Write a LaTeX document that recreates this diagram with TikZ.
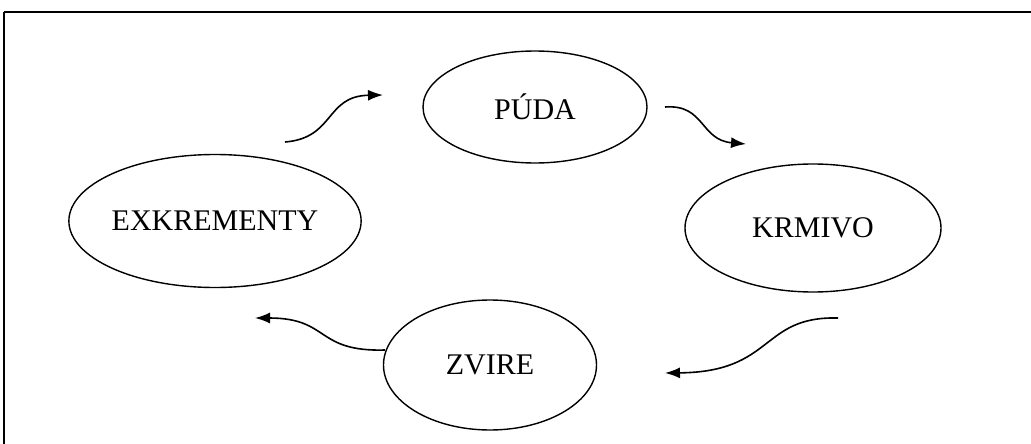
\documentclass[tikz,border=0pt]{standalone}
\usepackage{fontspec}
\setmainfont{Liberation Serif}
\usetikzlibrary{shapes.geometric,arrows.meta}
\begin{document}
\begin{tikzpicture}[x=1pt,y=-1pt,
  blob/.style={ellipse,draw,line width=1.4pt,inner sep=0pt,font=\fontsize{30}{32}\selectfont},
  flow/.style={line width=1.6pt,-{Latex[length=15pt,width=11pt]}}]
\useasboundingbox (0,0) rectangle (1031,444);
\draw[line width=2.5pt] (4,12) -- (1031,12);
\draw[line width=1.5pt] (4,12) -- (4,444);
\node[blob,minimum width=224pt,minimum height=112pt] (puda) at (535,107) {PÚDA};
\node[blob,minimum width=286pt,minimum height=133pt] (exk) at (215,221) {EXKREMENTY};
\node[blob,minimum width=256pt,minimum height=128pt] (krm) at (813,228) {KRMIVO};
\node[blob,minimum width=213pt,minimum height=130pt] (zvi) at (490,365) {ZVIRE};
\coordinate (a1) at (285,142); \coordinate (b1) at (383,95);
\coordinate (a2) at (665,107); \coordinate (b2) at (746,144);
\coordinate (a3) at (838,318); \coordinate (b3) at (665,373);
\coordinate (a4) at (385,350); \coordinate (b4) at (255,318);
\draw[flow] (a1) .. controls (335,138) and (325,96) .. (b1);
\draw[flow] (a2) .. controls (705,104) and (700,140) .. (b2);
\draw[flow] (a3) .. controls (760,316) and (775,372) .. (b3);
\draw[flow] (a4) .. controls (315,352) and (330,318) .. (b4);
\end{tikzpicture}
\end{document}
